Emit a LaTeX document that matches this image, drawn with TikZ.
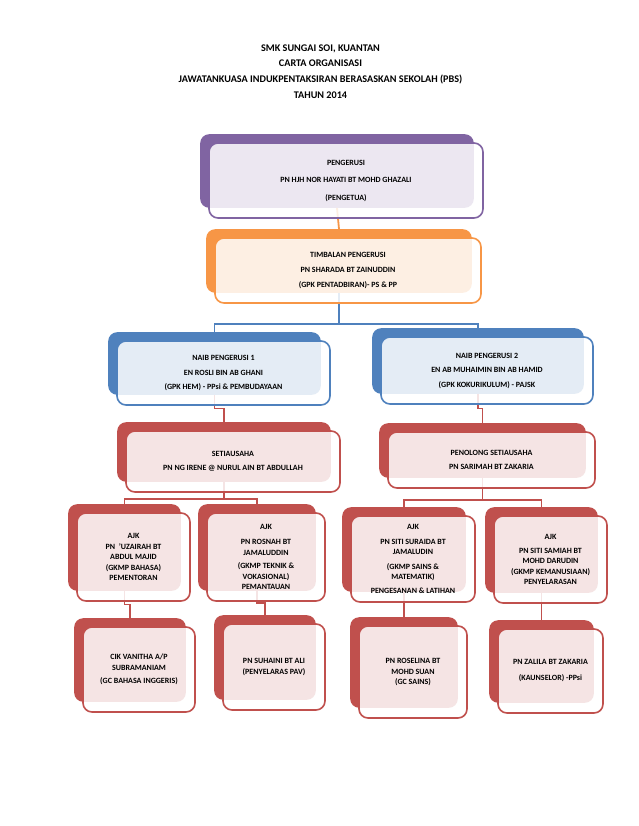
\documentclass[tikz,border=0pt]{standalone}
\usepackage{fontspec}
\setmainfont{Carlito}
\usetikzlibrary{calc,fit,backgrounds}

\definecolor{purp}{HTML}{8064A2}
\definecolor{oran}{HTML}{F79646}
\definecolor{blu}{HTML}{4F81BD}
\definecolor{redd}{HTML}{C0504D}

\tikzset{
  front/.style={draw=#1, line width=1.6pt, rounded corners=9pt, fill=white, fill opacity=0.85, text opacity=1,
    align=center, inner sep=0pt, font=\bfseries\fontsize{8}{10.5}\selectfont},
  back/.style={fill=#1, rounded corners=9pt, inner sep=0pt},
  link/.style={draw=#1, line width=1.8pt},
}

\begin{document}
\begin{tikzpicture}[x=1pt,y=-1pt]

        \useasboundingbox (0,0) rectangle (638,826);

        \node[font=\bfseries\fontsize{10.2}{15.7}\selectfont, align=center] (title) at (320.5,71.5)
            {SMK SUNGAI SOI, KUANTAN\\CARTA ORGANISASI\\JAWATANKUASA INDUKPENTAKSIRAN BERASASKAN SEKOLAH (PBS)\\TAHUN 2014};

        % top rows
        \node[front=purp, minimum width=274, minimum height=75] (pg) at (346,180.5)
            {PENGERUSI\\[7pt]PN HJH NOR HAYATI BT MOHD GHAZALI\\[7pt](PENGETUA)};
        \node[front=oran, minimum width=266, minimum height=65] (tp) at (348,270.5)
            {TIMBALAN PENGERUSI\\[4.5pt]PN SHARADA BT ZAINUDDIN\\[4.5pt](GPK PENTADBIRAN)- PS \& PP};
        \node[front=blu, minimum width=213, minimum height=64] (np1) at (223.5,373)
            {NAIB PENGERUSI 1\\[4pt]EN ROSLI BIN AB GHANI\\[4pt](GPK HEM) - PPsi \& PEMBUDAYAAN};
        \node[front=blu, minimum width=212, minimum height=67] (np2) at (487,370.5)
            {NAIB PENGERUSI 2\\[4pt]EN AB MUHAIMIN BIN AB HAMID\\[4pt](GPK KOKURIKULUM) - PAJSK};
        \node[front=redd, minimum width=214, minimum height=61] (su) at (233,461.5)
            {SETIAUSAHA\\[3.5pt]PN NG IRENE @ NURUL AIN BT ABDULLAH};
        \node[front=redd, minimum width=207, minimum height=56] (ps) at (491.5,460)
            {PENOLONG SETIAUSAHA\\[3pt]PN SARIMAH BT ZAKARIA};

        % AJK row
        \node[front=redd, minimum width=113, minimum height=88] (ajk1) at (133.5,557)
            {AJK\\PN\ \ ’UZAIRAH BT\\ABDUL MAJID\\(GKMP BAHASA)\\PEMENTORAN};
        \node[front=redd, minimum width=118, minimum height=88] (ajk2) at (266,557)
            {AJK\\[5pt]PN ROSNAH BT\\JAMALUDDIN\\[3pt](GKMP TEKNIK \&\\VOKASIONAL)\\PEMANTAUAN};
        \node[front=redd, minimum width=124, minimum height=86] (ajk3) at (413,559)
            {AJK\\[4pt]PN SITI SURAIDA BT\\JAMALUDIN\\[4pt](GKMP SAINS \&\\MATEMATIK)\\[3.5pt]PENGESANAN \& LATIHAN};
        \node[front=redd, minimum width=113, minimum height=87] (ajk4) at (550.5,559.5)
            {AJK\\[3.5pt]PN SITI SAMIAH BT\\MOHD DARUDIN\\(GKMP KEMANUSIAAN)\\PENYELARASAN};

        % bottom row
        \node[front=redd, minimum width=112, minimum height=85] (gc1) at (139,669.5)
            {CIK VANITHA A/P\\SUBRAMANIAM\\[3pt](GC BAHASA INGGERIS)};
        \node[front=redd, minimum width=102, minimum height=86] (gc2) at (274,667)
            {PN SUHAINI BT ALI\\[1pt](PENYELARAS PAV)};
        \node[front=redd, minimum width=108, minimum height=92] (gc3) at (413,672)
            {PN ROSELINA BT\\MOHD SUAN\\(GC SAINS)};
        \node[front=redd, minimum width=105, minimum height=84] (gc4) at (550.5,671)
            {PN ZALILA BT ZAKARIA\\[5.5pt](KAUNSELOR) -PPsi};

        \begin{pgfonlayer}{background}
        \foreach \n/\c in {pg/purp,tp/oran,np1/blu,np2/blu,su/redd,ps/redd,ajk1/redd,ajk2/redd,ajk3/redd,ajk4/redd,gc1/redd,gc2/redd,gc3/redd,gc4/redd}
            \node[back=\c, fit={($(\n.north west)+(-8,-8)$) ($(\n.south east)+(-10,-11)$)}] (\n-bk) {};

        \draw[link=oran] (pg-bk.south) -- (tp-bk.north);
        \draw[link=blu] (tp-bk.south) -- ++(0,31) -| (np1-bk.north);
        \draw[link=blu] (tp-bk.south) -- ++(0,31) -| (np2-bk.north);
        \draw[link=redd] (np1-bk.south) |- ($(np1-bk.south)!.5!(su-bk.north)$) -| (su-bk.north);
        \draw[link=redd] (np2-bk.south) |- ($(np2-bk.south)!.5!(ps-bk.north)$) -| (ps-bk.north);
        \draw[link=redd] (su-bk.south) -- ++(0,17) -| (ajk1-bk.north);
        \draw[link=redd] (su-bk.south) -- ++(0,17) -| (ajk2-bk.north);
        \draw[link=redd] (ps-bk.south) -- ++(0,22) -| (ajk3-bk.north);
        \draw[link=redd] (ps-bk.south) -- ++(0,22) -| (ajk4-bk.north);
        \foreach \i in {1,...,4}
            \draw[link=redd] (ajk\i-bk.south) |- ($(ajk\i-bk.south)!.5!(gc\i-bk.north)$) -| (gc\i-bk.north);
        \end{pgfonlayer}

\end{tikzpicture}
\end{document}
